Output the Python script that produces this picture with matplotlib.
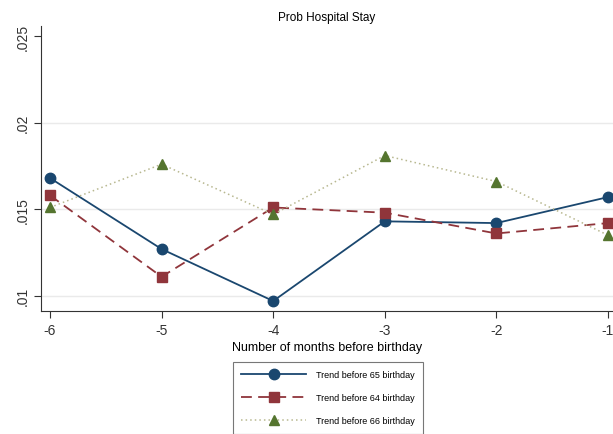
import numpy as np
import matplotlib
matplotlib.use('Agg')
import matplotlib.pyplot as plt

plt.rcParams['font.family'] = ['Liberation Sans', 'DejaVu Sans']

months = [-6, -5, -4, -3, -2, -1]
trend_65 = [0.0168, 0.0127, 0.0097, 0.0143, 0.0142, 0.0157]
trend_64 = [0.0158, 0.0111, 0.0151, 0.0148, 0.0136, 0.0142]
trend_66 = [0.0151, 0.0176, 0.0147, 0.0181, 0.0166, 0.0135]
y_ticks = [0.01, 0.015, 0.02, 0.025]
y_labels = ['.01', '.015', '.02', '.025']
grid_levels = [0.01, 0.015, 0.02]

fig = plt.figure(figsize=(6.13, 4.35), dpi=100)
ax = fig.add_axes([0.067, 0.283, 0.933, 0.655])

ax.plot(months, trend_65, color='#1a476f', lw=1.3, ls='-', marker='o', ms=7.5,
        label='Trend before 65 birthday', zorder=3)
ax.plot(months, trend_64, color='#90353b', lw=1.3, ls=(0, (6, 3.5)), marker='s', ms=7,
        label='Trend before 64 birthday', zorder=3)
ax.plot(months, trend_66, color='#b8b890', lw=1.1, ls=(0, (1, 2)), marker='^', ms=7.5,
        mfc='#55752f', mec='#55752f', label='Trend before 66 birthday', zorder=3)

ax.set_xlim(-6.08, -0.955)
ax.set_ylim(0.00913, 0.02558)
ax.set_xticks(months)
ax.set_xticklabels([str(m) for m in months], fontsize=10)
ax.set_yticks(y_ticks)
ax.set_yticklabels(y_labels, fontsize=10, rotation=90, va='center')
for g in grid_levels:
    ax.axhline(g, color='#eaeaea', lw=1, zorder=0)
for s in ['top', 'right']:
    ax.spines[s].set_visible(False)
for s in ['left', 'bottom']:
    ax.spines[s].set_color('#333333')
ax.tick_params(colors='#333333', length=5)
ax.tick_params(axis='y', pad=3)

ax.set_title('Prob Hospital Stay', fontsize=8.5, pad=4)
ax.set_xlabel('Number of months before birthday', fontsize=9, labelpad=3)

leg = fig.legend(loc='upper center', bbox_to_anchor=(0.535, 0.177), fontsize=6.5,
                 handlelength=7.2, frameon=True, fancybox=False, edgecolor='#555555',
                 borderpad=0.95, labelspacing=1.55, handletextpad=1.1)
leg.get_frame().set_linewidth(0.8)

fig.savefig('out.png', dpi=100)
